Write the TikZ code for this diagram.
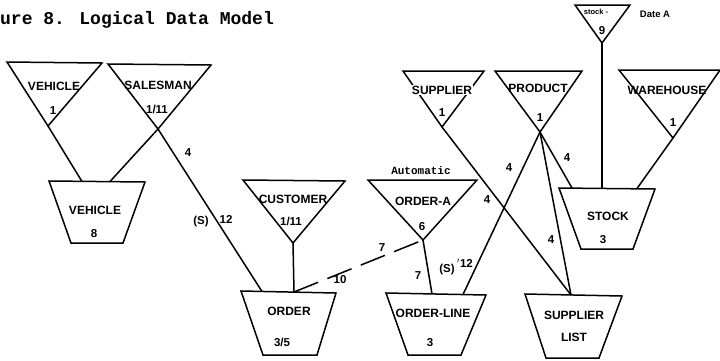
\documentclass[tikz,border=0pt]{standalone}
\usepackage{fontspec}
\setmainfont{Liberation Sans}
\newfontfamily\titlefont{Liberation Mono}
\begin{document}
\begin{tikzpicture}[x=1pt,y=-1pt,
  box/.style={line width=1.5pt, line join=miter},
  link/.style={line width=1.5pt},
  dlink/.style={line width=1.5pt, dash pattern=on 26pt off 10pt},
  lbl/.style={font=\bfseries\fontsize{12}{14}\selectfont, inner sep=0pt},
  num/.style={font=\bfseries\fontsize{11.5}{13}\selectfont, inner sep=0pt},
  tiny/.style={font=\bfseries\fontsize{7.5}{8}\selectfont, inner sep=0pt},
  hand/.style={font=\bfseries\fontsize{9.5}{10}\selectfont, inner sep=0pt},
  typed/.style={font=\titlefont\bfseries\fontsize{11}{12}\selectfont, inner sep=0pt}]

\fill[white] (0,0) rectangle (720,360);
\useasboundingbox (0,0) rectangle (720,360);

\node[anchor=west, inner sep=0pt, font=\titlefont\bfseries\fontsize{18}{20}\selectfont] (title) at (0,20) {ure 8. Logical Data Model};

% ---- record types (inverted triangles) ----
\draw[box] (7,62) -- (102,63) -- (48,126) coordinate (vehA) -- cycle;
\node[lbl] (vehT) at (54,86) {VEHICLE};
\node[num] (vehN) at (53,111) {1};

\draw[box] (108,64) -- (211,65) -- (158,129) coordinate (salA) -- cycle;
\node[lbl] (salT) at (158,85) {SALESMAN};
\node[num] (salN) at (157,109) {1/11};

\draw[box] (243,180) -- (345,181) -- (293,243) coordinate (cusA) -- cycle;
\node[lbl] (cusT) at (293,199) {CUSTOMER};
\node[num] (cusN) at (291,221) {1/11};

\draw[box] (368,180) -- (477,180) -- (423,240) coordinate (oraA) -- cycle;
\node[typed] (oraX) at (421,171) {Automatic};
\node[lbl] (oraT) at (423,201) {ORDER-A};
\node[num] (oraN) at (422,227) {6};

\draw[box] (403,71) -- (484,71) -- (442,127) coordinate (supA) -- cycle;
\node[lbl, fill=white, inner sep=1pt] (supT) at (442,90) {SUPPLIER};
\node[num] (supN) at (442,113) {1};

\draw[box] (495,71) -- (582,71) -- (540,132) coordinate (proA) -- cycle;
\node[lbl] (proT) at (538,88) {PRODUCT};
\node[num] (proN) at (540,118) {1};

\draw[box] (575,5) -- (630,5) -- (602,43) coordinate (sdA) -- cycle;
\node[tiny] (sdT) at (596,12) {stock -};
\node[hand] (sdX) at (655,14) {Date A};
\node[num] (sdN) at (602,31) {9};

\draw[box] (619,70) -- (720,70) -- (673,138) coordinate (whA) -- cycle;
\node[lbl] (whT) at (667,90) {WAREHOUSE};
\node[num] (whN) at (673,123) {1};

% ---- data sets (trapezoids) ----
\draw[box] (49,181) -- (145,182) -- (123,243) -- (71,243) -- cycle;
\node[lbl] (vehS) at (95,210) {VEHICLE};
\node[num] (vehSN) at (94,234) {8};
\coordinate (vehL) at (82,181.5);
\coordinate (vehR) at (110,181.5);

\draw[box] (241,291) -- (336,293) -- (317,355) -- (263,355) -- cycle;
\node[lbl] (ordS) at (289,311) {ORDER};
\node[num] (ordSN) at (282,342) {3/5};
\coordinate (ordL) at (262,291.5);
\coordinate (ordM) at (294,292);

\draw[box] (386,293) -- (486,295) -- (461,355) -- (408,355) -- cycle;
\node[lbl] (olS) at (433,313) {ORDER-LINE};
\node[num] (olSN) at (430,343) {3};
\coordinate (olL) at (432,294);
\coordinate (olR) at (463,294.5);

\draw[box] (559,188) -- (655,189) -- (633,249) -- (581,249) -- cycle;
\node[lbl] (stS) at (608,216) {STOCK};
\node[num] (stSN) at (603,240) {3};
\coordinate (stL) at (572,188);
\coordinate (stM) at (602,188.5);
\coordinate (stR) at (637,188.5);

\draw[box] (525,294) -- (622,296) -- (599,358) -- (546,358) -- cycle;
\node[lbl] (slS) at (574,315) {SUPPLIER};
\node[lbl] (slS2) at (574,337) {LIST};
\coordinate (slM) at (571,295);

% ---- relationships ----
\draw[link] (vehA) -- (vehL);
\draw[link] (salA) -- (vehR);
\draw[link] (salA) -- (ordL);
\node[num] (l1) at (188,153) {4};
\node[num] (l2) at (201,222) {(S)};
\node[num] (l3) at (226,219) {12};

\draw[link] (cusA) -- (ordM);

\draw[dlink] (ordM) -- (oraA);
\node[num] (l4) at (340,280) {10};
\node[num] (l5) at (382,248) {7};

\draw[link] (oraA) -- (olL);
\node[num] (l6) at (418,276) {7};
\node[num] (l7) at (447,270) {(S)};
\node[num] (l8) at (465,263) {$'$12};

\draw[link] (proA) -- (olR);
\node[num] (l9) at (509,168) {4};

\draw[link] (supA) -- (slM);
\node[num] (l10) at (487,200) {4};

\draw[link] (proA) -- (slM);
\node[num] (l11) at (551,240) {4};

\draw[link] (proA) -- (stL);
\node[num] (l12) at (567,158) {4};

\draw[link] (sdA) -- (stM);
\draw[link] (whA) -- (stR);

\end{tikzpicture}
\end{document}
